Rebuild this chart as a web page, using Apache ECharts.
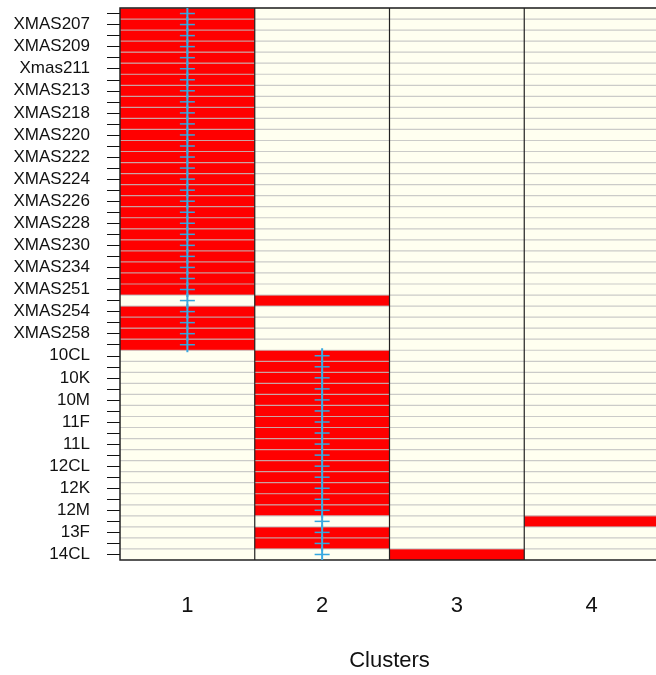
<!DOCTYPE html>
<html>
<head>
<meta charset="utf-8">
<script src="https://cdn.jsdelivr.net/npm/echarts@6/dist/echarts.min.js"></script>
<style>
  html, body { margin: 0; padding: 0; background: #ffffff; }
  #chart { width: 656px; height: 675px; }
</style>
</head>
<body>
<div id="chart"></div>
<script>
// Samples, listed from the bottom row upwards
const samples = [
  '14CL', '13K', '13F', '13CL', '12M', '12L', '12K', '12F', '12CL', '11M',
  '11L', '11K', '11F', '11CL', '10M', '10L', '10K', '10F', '10CL', 'XMAS259',
  'XMAS258', 'XMAS256', 'XMAS254', 'XMAS252', 'XMAS251', 'XMAS236', 'XMAS234', 'XMAS232', 'XMAS230', 'XMAS229',
  'XMAS228', 'XMAS227', 'XMAS226', 'XMAS225', 'XMAS224', 'XMAS223', 'XMAS222', 'XMAS221', 'XMAS220', 'XMAS219',
  'XMAS218', 'XMAS214', 'XMAS213', 'XMAS212', 'Xmas211', 'XMAS210', 'XMAS209', 'XMAS208', 'XMAS207', 'XMAS206'
];

// Cluster assigned to each sample (same order as samples)
const clusterOf = [
  3, 2, 2, 4, 2, 2, 2, 2, 2, 2,
  2, 2, 2, 2, 2, 2, 2, 2, 2, 1,
  1, 1, 1, 2, 1, 1, 1, 1, 1, 1,
  1, 1, 1, 1, 1, 1, 1, 1, 1, 1,
  1, 1, 1, 1, 1, 1, 1, 1, 1, 1
];

// Known group of each sample, shown as a cross
const groupOf = [
  2, 2, 2, 2, 2, 2, 2, 2, 2, 2,
  2, 2, 2, 2, 2, 2, 2, 2, 2, 1,
  1, 1, 1, 1, 1, 1, 1, 1, 1, 1,
  1, 1, 1, 1, 1, 1, 1, 1, 1, 1,
  1, 1, 1, 1, 1, 1, 1, 1, 1, 1
];

// Cluster labels along the x axis
const clusters = ['1', '2', '3', '4'];

const FONT = '"Liberation Sans", Arial, Helvetica, sans-serif';
const chart = echarts.init(document.getElementById('chart'), null, { renderer: 'canvas' });

const cellData = samples.map((s, i) => [clusterOf[i] - 1, i]);
const crossData = samples.map((s, i) => [groupOf[i] - 1, i]);
const rowData = samples.map((s, i) => [0, i]);
const colData = clusters.map((c, k) => [k, 0]);

const option = {
  animation: false,
  backgroundColor: '#ffffff',
  grid: {
    left: 120, top: 8, width: 539, height: 552,
    outerBoundsMode: 'none',
    show: true, backgroundColor: '#FFFFF0', borderWidth: 0
  },
  xAxis: {
    type: 'category',
    data: clusters,
    axisLine: { show: false },
    axisTick: { show: false },
    splitLine: { show: false },
    axisLabel: { margin: 35, fontSize: 22, color: '#111', fontFamily: FONT },
    name: 'Clusters',
    nameLocation: 'middle',
    nameGap: 90,
    nameTextStyle: { fontSize: 22, color: '#111', fontFamily: FONT }
  },
  yAxis: {
    type: 'category',
    data: samples,
    axisLine: { show: false },
    axisTick: { show: true, alignWithLabel: true, interval: 0, length: 13, lineStyle: { color: '#111', width: 1 } },
    splitLine: { show: false },
    axisLabel: { interval: 1, margin: 30, fontSize: 17, color: '#111', fontFamily: FONT }
  },
  series: [
    {
      // membership cells
      type: 'custom', z: 1, data: cellData, encode: { x: 0, y: 1 },
      renderItem: (params, api) => {
        const c = api.coord([api.value(0), api.value(1)]);
        const sz = api.size([1, 1]);
        return {
          type: 'rect',
          shape: { x: c[0] - sz[0] / 2, y: c[1] - sz[1] / 2, width: sz[0], height: sz[1] },
          style: { fill: '#FF0000' }
        };
      }
    },
    {
      // row separators
      type: 'custom', z: 2, data: rowData, encode: { x: 0, y: 1 },
      renderItem: (params, api) => {
        const cs = params.coordSys;
        const c = api.coord([0, api.value(1)]);
        const h = api.size([1, 1])[1];
        const y = c[1] - h / 2;
        return {
          type: 'line',
          shape: { x1: cs.x, y1: y, x2: cs.x + cs.width, y2: y },
          style: { stroke: 'rgba(190,190,190,0.8)', lineWidth: 1.2 }
        };
      }
    },
    {
      // cluster dividers and frame
      type: 'custom', z: 3, data: colData, encode: { x: 0, y: 1 },
      renderItem: (params, api) => {
        const cs = params.coordSys;
        const k = api.value(0);
        if (k === 0) {
          return {
            type: 'rect',
            shape: { x: cs.x, y: cs.y, width: cs.width, height: cs.height },
            style: { fill: null, stroke: '#222', lineWidth: 1.5 }
          };
        }
        const c = api.coord([k, 0]);
        const x = c[0] - api.size([1, 1])[0] / 2;
        return {
          type: 'line',
          shape: { x1: x, y1: cs.y, x2: x, y2: cs.y + cs.height },
          style: { stroke: '#222', lineWidth: 1.2 }
        };
      }
    },
    {
      // known-group crosses
      type: 'custom', z: 4, data: crossData, clip: true, encode: { x: 0, y: 1 },
      renderItem: (params, api) => {
        const c = api.coord([api.value(0), api.value(1)]);
        const r = 7.5;
        return {
          type: 'group',
          children: [
            { type: 'line', shape: { x1: c[0] - r, y1: c[1], x2: c[0] + r, y2: c[1] }, style: { stroke: '#33A6DE', lineWidth: 1.5 } },
            { type: 'line', shape: { x1: c[0], y1: c[1] - r, x2: c[0], y2: c[1] + r }, style: { stroke: '#3AAAE2', lineWidth: 2 } }
          ]
        };
      }
    }
  ]
};

chart.setOption(option);
</script>
</body>
</html>
